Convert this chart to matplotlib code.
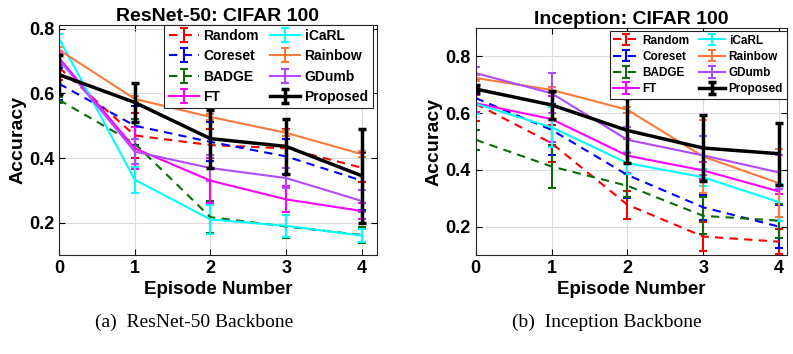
import numpy as np
import matplotlib
matplotlib.use('Agg')
import matplotlib.pyplot as plt

plt.rcParams['font.family'] = ['Liberation Sans', 'DejaVu Sans']
plt.rcParams['font.weight'] = 'bold'

episodes = [0, 1, 2, 3, 4]
methods = ['Random', 'Coreset', 'BADGE', 'FT', 'iCaRL', 'Rainbow', 'GDumb', 'Proposed']

# ResNet-50 backbone: mean accuracy and error (half-width)
resnet_mean = {
    'Random':   [0.68, 0.47, 0.44, 0.43, 0.37],
    'Coreset':  [0.63, 0.50, 0.45, 0.405, 0.33],
    'BADGE':    [0.58, 0.445, 0.217, 0.188, 0.162],
    'FT':       [0.71, 0.43, 0.33, 0.272, 0.236],
    'iCaRL':    [0.77, 0.333, 0.21, 0.19, 0.16],
    'Rainbow':  [0.735, 0.583, 0.527, 0.478, 0.412],
    'GDumb':    [0.705, 0.42, 0.369, 0.338, 0.267],
    'Proposed': [0.658, 0.572, 0.46, 0.436, 0.345],
}
resnet_err = {
    'Random':   [0.04, 0.07, 0.05, 0.06, 0.045],
    'Coreset':  [0.05, 0.06, 0.06, 0.055, 0.09],
    'BADGE':    [0.01, 0.075, 0.05, 0.035, 0.025],
    'FT':       [0.02, 0.065, 0.07, 0.04, 0.025],
    'iCaRL':    [0.015, 0.04, 0.045, 0.035, 0.02],
    'Rainbow':  [0.01, 0.01, 0.01, 0.01, 0.01],
    'GDumb':    [0.02, 0.04, 0.04, 0.03, 0.035],
    'Proposed': [0.06, 0.06, 0.09, 0.085, 0.145],
}

# Inception backbone
incep_mean = {
    'Random':   [0.633, 0.494, 0.277, 0.165, 0.147],
    'Coreset':  [0.653, 0.541, 0.382, 0.268, 0.20],
    'BADGE':    [0.506, 0.412, 0.344, 0.238, 0.221],
    'FT':       [0.635, 0.579, 0.45, 0.398, 0.324],
    'iCaRL':    [0.633, 0.55, 0.424, 0.374, 0.286],
    'Rainbow':  [0.724, 0.682, 0.612, 0.447, 0.353],
    'GDumb':    [0.741, 0.67, 0.506, 0.451, 0.391],
    'Proposed': [0.685, 0.629, 0.539, 0.477, 0.457],
}
incep_err = {
    'Random':   [0.06, 0.065, 0.05, 0.05, 0.045],
    'Coreset':  [0.025, 0.09, 0.08, 0.045, 0.075],
    'BADGE':    [0.035, 0.075, 0.04, 0.065, 0.06],
    'FT':       [0.03, 0.08, 0.06, 0.03, 0.01],
    'iCaRL':    [0.035, 0.07, 0.04, 0.03, 0.065],
    'Rainbow':  [0.01, 0.01, 0.01, 0.13, 0.12],
    'GDumb':    [0.02, 0.07, 0.045, 0.07, 0.06],
    'Proposed': [0.015, 0.05, 0.115, 0.115, 0.11],
}

colors = {
    'Random': '#ff0000', 'Coreset': '#0000ff', 'BADGE': '#0b6b0b', 'FT': '#ff00ff',
    'iCaRL': '#00ffff', 'Rainbow': '#fa7a3a', 'GDumb': '#b04cff', 'Proposed': '#000000',
}
dashed = ['Random', 'Coreset', 'BADGE']

fig = plt.figure(figsize=(7.93, 3.54), dpi=100)
ax1 = fig.add_axes([0.0744, 0.2797, 0.401, 0.65])
ax2 = fig.add_axes([0.600, 0.2797, 0.392, 0.641])


def draw(ax, mean, err, title, ylim, xmax, legend_size, anchor, spacing):
    for m in methods:
        lw = 2.5 if m == 'Proposed' else 1.5
        ls = (0, (4, 3)) if m in dashed else '-'
        ax.errorbar(episodes, mean[m], yerr=err[m], color=colors[m], lw=lw,
                    linestyle=ls, capsize=3, capthick=lw, elinewidth=lw,
                    label=m, zorder=3 if m == 'Proposed' else 2)
    ax.set_xlim(0, xmax)
    ax.set_ylim(*ylim)
    ax.set_xticks(episodes)
    ax.set_yticks([0.2, 0.4, 0.6, 0.8])
    ax.set_yticklabels(['0.2', '0.4', '0.6', '0.8'])
    ax.tick_params(labelsize=13, direction='in', length=4, width=0.8,
                   top=True, right=True)
    for lab in ax.get_xticklabels() + ax.get_yticklabels():
        lab.set_fontweight('bold')
    ax.grid(True, color='#dddddd', lw=0.8)
    ax.set_axisbelow(True)
    for s in ax.spines.values():
        s.set_color('#262626')
        s.set_linewidth(0.8)
    ax.set_title(title, fontsize=14, fontweight='bold', pad=3)
    ax.set_xlabel('Episode Number', fontsize=13.5, fontweight='bold', labelpad=3)
    ax.set_ylabel('Accuracy', fontsize=14, fontweight='bold', labelpad=2)
    leg = ax.legend(ncol=2, loc='upper right', bbox_to_anchor=anchor,
                    prop={'size': legend_size, 'weight': 'bold'},
                    fancybox=False, framealpha=1, edgecolor='#262626',
                    handlelength=2.2, handletextpad=0.3, columnspacing=0.8,
                    labelspacing=spacing, borderpad=0.3, borderaxespad=0)
    leg.get_frame().set_linewidth(0.8)


draw(ax1, resnet_mean, resnet_err, 'ResNet-50: CIFAR 100', (0.1, 0.812), 4.2, 10, (0.987, 1.0), 0.45)
draw(ax2, incep_mean, incep_err, 'Inception: CIFAR 100', (0.1, 0.9), 4.1, 8.5, (1.0, 0.987), 0.35)

fig.text(0.245, 0.09, '(a)  ResNet-50 Backbone', family='Liberation Serif',
         fontweight='normal', fontsize=14, ha='center', va='center')
fig.text(0.765, 0.09, '(b)  Inception Backbone', family='Liberation Serif',
         fontweight='normal', fontsize=14, ha='center', va='center')

fig.savefig('out.png', dpi=100)
